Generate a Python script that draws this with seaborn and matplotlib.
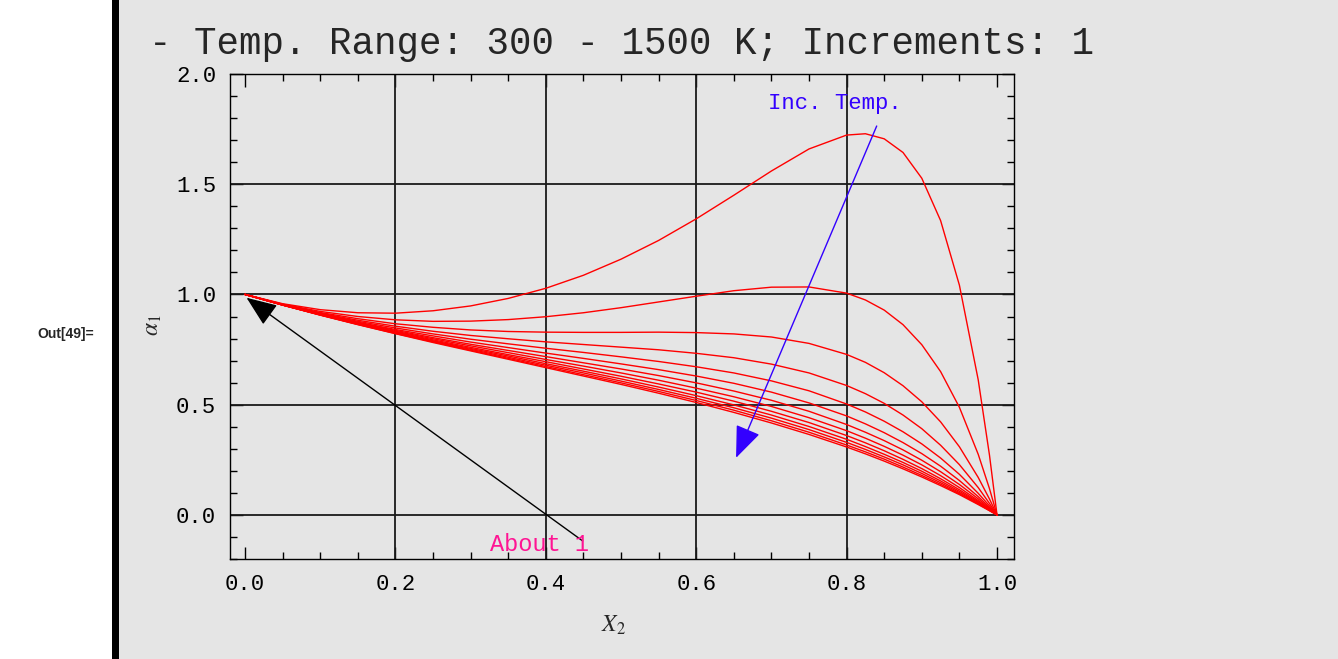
import numpy as np
import pandas as pd
import matplotlib.pyplot as plt
from matplotlib.patches import Rectangle
from matplotlib.ticker import MultipleLocator, FormatStrFormatter
import seaborn as sns

## data (alpha_1 vs X_2, one curve per temperature)
x2 = [0.0, 0.05, 0.1, 0.15, 0.2, 0.25, 0.3, 0.35, 0.4, 0.45, 0.5, 0.55, 0.6,
      0.65, 0.7, 0.75, 0.8, 0.825, 0.85, 0.875, 0.9, 0.925, 0.95, 0.975, 0.99, 1.0]
temps = [300, 400, 500, 600, 700, 800, 900, 1000, 1100, 1200, 1300, 1400, 1500]

a1_300 = [1.0, 0.958, 0.931, 0.917, 0.915, 0.926, 0.948, 0.982, 1.028, 1.087, 1.160, 1.245, 1.343,
          1.450, 1.560, 1.660, 1.723, 1.729, 1.706, 1.644, 1.527, 1.335, 1.042, 0.613, 0.271, 0.0]
a1_400 = [1.0, 0.956, 0.923, 0.900, 0.885, 0.878, 0.879, 0.886, 0.899, 0.917, 0.940, 0.966, 0.992,
          1.017, 1.033, 1.034, 1.006, 0.975, 0.929, 0.863, 0.772, 0.650, 0.488, 0.275, 0.119, 0.0]
a1_500 = [1.0, 0.955, 0.918, 0.890, 0.867, 0.851, 0.839, 0.832, 0.829, 0.828, 0.828, 0.829, 0.827,
          0.821, 0.807, 0.778, 0.728, 0.692, 0.645, 0.586, 0.513, 0.422, 0.309, 0.170, 0.072, 0.0]
a1_600 = [1.0, 0.954, 0.915, 0.883, 0.856, 0.833, 0.814, 0.799, 0.785, 0.773, 0.761, 0.749, 0.733,
          0.713, 0.684, 0.644, 0.587, 0.550, 0.506, 0.453, 0.391, 0.316, 0.228, 0.124, 0.052, 0.0]
a1_700 = [1.0, 0.953, 0.913, 0.878, 0.848, 0.821, 0.797, 0.776, 0.756, 0.737, 0.717, 0.696, 0.672,
          0.644, 0.608, 0.563, 0.503, 0.467, 0.425, 0.377, 0.322, 0.258, 0.184, 0.098, 0.041, 0.0]
a1_800 = [1.0, 0.953, 0.911, 0.874, 0.841, 0.812, 0.784, 0.759, 0.734, 0.710, 0.685, 0.659, 0.630,
          0.597, 0.557, 0.508, 0.449, 0.413, 0.373, 0.328, 0.278, 0.221, 0.156, 0.083, 0.034, 0.0]
a1_900 = [1.0, 0.953, 0.910, 0.872, 0.837, 0.804, 0.774, 0.746, 0.718, 0.690, 0.662, 0.632, 0.599,
          0.562, 0.520, 0.470, 0.410, 0.375, 0.337, 0.295, 0.248, 0.196, 0.138, 0.073, 0.030, 0.0]
a1_1000 = [1.0, 0.952, 0.909, 0.870, 0.833, 0.799, 0.767, 0.736, 0.705, 0.675, 0.644, 0.611, 0.575,
           0.536, 0.492, 0.441, 0.382, 0.348, 0.311, 0.271, 0.227, 0.178, 0.124, 0.065, 0.027, 0.0]
a1_1100 = [1.0, 0.952, 0.908, 0.868, 0.830, 0.794, 0.760, 0.727, 0.695, 0.662, 0.629, 0.594, 0.557,
           0.516, 0.470, 0.419, 0.360, 0.327, 0.291, 0.252, 0.210, 0.164, 0.114, 0.060, 0.025, 0.0]
a1_1200 = [1.0, 0.952, 0.908, 0.866, 0.827, 0.790, 0.755, 0.721, 0.686, 0.652, 0.617, 0.580, 0.541,
           0.499, 0.453, 0.401, 0.343, 0.310, 0.275, 0.238, 0.198, 0.154, 0.107, 0.056, 0.023, 0.0]
a1_1300 = [1.0, 0.952, 0.907, 0.865, 0.825, 0.787, 0.751, 0.715, 0.679, 0.644, 0.607, 0.569, 0.529,
           0.486, 0.439, 0.387, 0.329, 0.297, 0.263, 0.227, 0.188, 0.146, 0.101, 0.052, 0.021, 0.0]
a1_1400 = [1.0, 0.952, 0.907, 0.864, 0.823, 0.785, 0.747, 0.710, 0.673, 0.636, 0.599, 0.560, 0.519,
           0.475, 0.427, 0.375, 0.317, 0.286, 0.253, 0.217, 0.179, 0.139, 0.096, 0.050, 0.020, 0.0]
a1_1500 = [1.0, 0.952, 0.906, 0.863, 0.822, 0.782, 0.744, 0.706, 0.668, 0.630, 0.592, 0.552, 0.510,
           0.465, 0.417, 0.365, 0.308, 0.277, 0.244, 0.209, 0.172, 0.133, 0.092, 0.047, 0.019, 0.0]

curves = [a1_300, a1_400, a1_500, a1_600, a1_700, a1_800, a1_900,
          a1_1000, a1_1100, a1_1200, a1_1300, a1_1400, a1_1500]

xticks = [0.0, 0.2, 0.4, 0.6, 0.8, 1.0]
yticks = [0.0, 0.5, 1.0, 1.5, 2.0]
xgrid = [0.2, 0.4, 0.6, 0.8]
ygrid = [0.0, 0.5, 1.0, 1.5]

title = "- Temp. Range: 300 - 1500 K; Increments: 1"

# long form table for seaborn
dtf = pd.concat([pd.DataFrame({"x2": x2, "a1": c, "T": t})
                 for t, c in zip(temps, curves)], ignore_index=True)

bg = "#e5e5e5"
mono = "Liberation Mono"

sns.set_theme(style="ticks")
plt.rcParams["font.family"] = ["Liberation Mono", "DejaVu Sans"]
plt.rcParams["mathtext.fontset"] = "stix"
plt.rcParams["lines.solid_joinstyle"] = "round"

fig = plt.figure(figsize=(13.38, 6.59), dpi=100)
fig.patch.set_facecolor("white")
fig.add_artist(Rectangle((118 / 1338, 0), 1, 1, transform=fig.transFigure,
                         facecolor=bg, edgecolor="none", zorder=-2))
fig.add_artist(Rectangle((112 / 1338, 0), 7 / 1338, 1, transform=fig.transFigure,
                         facecolor="black", edgecolor="none", zorder=-1))

ax = fig.add_axes([230 / 1338, 100 / 659, 784 / 1338, 485 / 659])
ax.set_facecolor(bg)

for v in xgrid:
    ax.axvline(v, color="#1a1a1a", lw=1.3, zorder=1)
for v in ygrid:
    ax.axhline(v, color="#1a1a1a", lw=1.3, zorder=1)

sns.lineplot(data=dtf, x="x2", y="a1", hue="T", palette=["red"] * len(temps),
             estimator=None, sort=False, legend=False, lw=1.0, ax=ax, zorder=3)

ax.set_xlim(-0.02, 1.0226)
ax.set_ylim(-0.2, 2.0)
ax.set_xticks(xticks)
ax.set_yticks(yticks)
ax.xaxis.set_minor_locator(MultipleLocator(0.05))
ax.yaxis.set_minor_locator(MultipleLocator(0.1))
ax.xaxis.set_major_formatter(FormatStrFormatter("%.1f"))
ax.yaxis.set_major_formatter(FormatStrFormatter("%.1f"))
ax.tick_params(which="both", direction="in", top=True, right=True,
               color="black", width=1.0, labelsize=16, labelcolor="black")
ax.tick_params(which="major", length=9)
ax.tick_params(which="minor", length=5)
ax.tick_params(axis="x", pad=11)
ax.tick_params(axis="y", pad=10)
for s in ax.spines.values():
    s.set_color("black")
    s.set_linewidth(1.0)
ax.set_xlabel("")
ax.set_ylabel("")

# arrows and notes
ax.annotate("", xy=(0.002, 0.985), xytext=(0.449, -0.118),
            arrowprops=dict(arrowstyle="-|>,head_length=0.95,head_width=0.38",
                            mutation_scale=20, color="black", lw=1.0,
                            shrinkA=0, shrinkB=0), zorder=5)
ax.annotate("", xy=(0.653, 0.259), xytext=(0.840, 1.764),
            arrowprops=dict(arrowstyle="-|>,head_length=1.0,head_width=0.4",
                            mutation_scale=20, color="#3300ff", lw=1.0,
                            shrinkA=0, shrinkB=0), zorder=5)
ax.text(0.695, 1.868, "Inc. Temp.", color="#3300ff", fontsize=16,
        family=mono, va="center", ha="left", zorder=6)
ax.text(0.326, -0.136, "About 1", color="#ff1493", fontsize=17,
        family=mono, va="center", ha="left", zorder=6)

fig.text(149 / 1338, 1 - 54 / 659, title, fontsize=27, family=mono,
         va="baseline", ha="left")
fig.text(37 / 1338, 1 - 334 / 659, "Out[49]=", fontsize=10, fontweight="bold",
         family="Liberation Sans", va="center", ha="left")
fig.text(613 / 1338, 1 - 625 / 659, r"$X_2$", fontsize=17, va="center", ha="center")
fig.text(152 / 1338, 1 - 325 / 659, r"$\alpha_1$", fontsize=17, rotation=90,
         va="center", ha="center")

fig.savefig("out.png", dpi=100, facecolor=fig.get_facecolor())
